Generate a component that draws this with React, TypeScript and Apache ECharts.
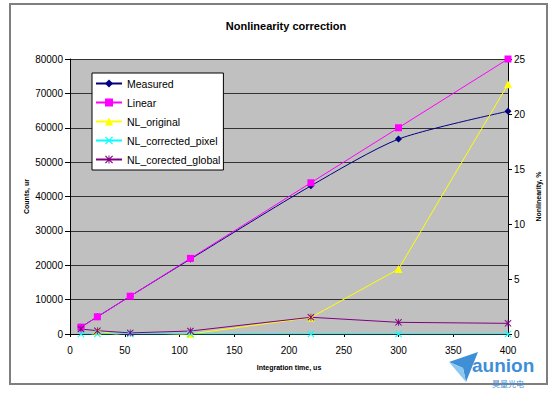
import React, { useEffect, useRef } from "react";
import * as echarts from "echarts";

const xValues = [10, 25, 55, 110, 220, 300, 400];
const measured = [2000, 5000, 11000, 21800, 43100, 56700, 64800];
const linear = [2000, 5000, 11000, 22000, 44000, 60000, 80000];
const nlOriginal = [-0.8, 0.3, -0.3, 0.0, 1.5, 5.9, 22.7];
const nlCorrectedPixel = [0, 0, 0, 0, 0, 0, 0];
const nlCorectedGlobal = [0.45, 0.3, 0.1, 0.27, 1.52, 1.06, 0.97];

const seriesNames = ["Measured", "Linear", "NL_original", "NL_corrected_pixel", "NL_corected_global"];

const X_PATH = "path://M0,1L1,0L5,4L9,0L10,1L6,5L10,9L9,10L5,6L1,10L0,9L4,5Z";
const STAR_PATH =
  "path://M0,1L1,0L5,4L9,0L10,1L6,5L10,9L9,10L5,6L1,10L0,9L4,5Z M4.4,0L5.6,0L5.6,10L4.4,10Z";

const FONT = "Liberation Sans, Arial, sans-serif";

function pairs(ys: number[]) {
  return xValues.map((x, i) => [x, ys[i]]);
}

export default function App() {
  const ref = useRef<HTMLDivElement>(null);
  useEffect(() => {
    document.body.style.margin = "0";
    if (!ref.current) return;
    const chart = echarts.init(ref.current, null, { renderer: "svg" });
    const mk = (
      name: string,
      data: number[],
      color: string,
      symbol: string,
      size: number,
      yAxisIndex: number,
      extra: any = {}
    ) => ({
      name,
      type: "line",
      data: pairs(data),
      yAxisIndex,
      symbol,
      symbolSize: size,
      showAllSymbol: true,
      lineStyle: { color, width: 1 },
      itemStyle: { color },
      clip: true,
      ...extra,
    });
    chart.setOption({
      animation: false,
      backgroundColor: "#ffffff",
      title: {
        text: "Nonlinearity correction",
        left: 281,
        textAlign: "center",
        top: 15,
        textStyle: { fontFamily: FONT, fontSize: 11, fontWeight: "bold", color: "#000" },
      },
      legend: {
        orient: "vertical",
        left: 92,
        top: 73,
        data: seriesNames,
        itemWidth: 26,
        itemHeight: 10,
        itemGap: 8,
        padding: [5, 3, 5, 3],
        backgroundColor: "#ffffff",
        borderColor: "#000000",
        borderWidth: 1,
        borderRadius: 0,
        textStyle: { fontFamily: FONT, fontSize: 10.5, color: "#000" },
      },
      grid: {
        left: 70,
        right: 49,
        top: 59,
        height: 275,
        show: true,
        backgroundColor: "#c0c0c0",
        borderColor: "#808080",
        borderWidth: 0,
      },
      xAxis: {
        type: "value",
        min: 0,
        max: 400,
        interval: 50,
        name: "Integration time, us",
        nameLocation: "middle",
        nameGap: 30,
        nameMoveOverlap: false,
        nameTextStyle: { fontFamily: FONT, fontSize: 7, fontWeight: "bold", color: "#000" },
        axisLine: { show: true, onZero: false, lineStyle: { color: "#000", width: 1 } },
        axisTick: { show: true, length: 3, lineStyle: { color: "#000" } },
        axisLabel: { fontFamily: FONT, fontSize: 10, color: "#000", margin: 11 },
        splitLine: { show: false },
      },
      yAxis: [
        {
          type: "value",
          min: 0,
          max: 80000,
          interval: 10000,
          position: "left",
          name: "Counts, ur",
          nameLocation: "middle",
          nameRotate: 90,
          nameGap: 40,
          nameMoveOverlap: false,
          nameTextStyle: { fontFamily: FONT, fontSize: 7, fontWeight: "bold", color: "#000" },
          axisLine: { show: true, lineStyle: { color: "#000", width: 1 } },
          axisTick: { show: true, length: 5, lineStyle: { color: "#000" } },
          axisLabel: {
            fontFamily: FONT,
            fontSize: 10,
            color: "#000",
            margin: 7,
            formatter: (v: number) => String(v),
          },
          splitLine: { show: true, lineStyle: { color: "#333333", width: 1 } },
        },
        {
          type: "value",
          min: 0,
          max: 25,
          interval: 5,
          position: "right",
          name: "Nonlinearity, %",
          nameLocation: "middle",
          nameRotate: 90,
          nameGap: 27,
          nameMoveOverlap: false,
          nameTextStyle: { fontFamily: FONT, fontSize: 7, fontWeight: "bold", color: "#000" },
          axisLine: { show: true, lineStyle: { color: "#000", width: 1 } },
          axisTick: { show: true, length: 4, lineStyle: { color: "#000" } },
          axisLabel: { fontFamily: FONT, fontSize: 10, color: "#000", margin: 6 },
          splitLine: { show: false },
        },
      ],
      series: [
        mk(seriesNames[0], measured, "#000080", "diamond", 7, 0, { smooth: 0.25 }),
        mk(seriesNames[1], linear, "#ff00ff", "rect", 7, 0),
        mk(seriesNames[2], nlOriginal, "#ffff00", "triangle", 8, 1),
        mk(seriesNames[3], nlCorrectedPixel, "#00ffff", X_PATH, 7, 1),
        mk(seriesNames[4], nlCorectedGlobal, "#800080", STAR_PATH, 7, 1),
      ],
      graphic: [
        {
          type: "rect",
          shape: { x: 10, y: 4, width: 537, height: 380 },
          style: { fill: "none", stroke: "#7f7f7f", lineWidth: 2 },
          z: -1,
        },
        {
          type: "polygon",
          shape: { points: [[449, 362], [478, 352], [466, 382], [463, 368]] },
          style: { fill: "#3f8fd6" },
        },
        {
          type: "polygon",
          shape: { points: [[449, 362], [463, 368], [466, 382]] },
          style: { fill: "#8cc8ef" },
        },
        {
          type: "text",
          x: 472,
          y: 365,
          style: {
            text: "aunion",
            fontFamily: FONT,
            fontSize: 19,
            fontWeight: "bold",
            fill: "#3f8fd6",
            verticalAlign: "middle",
          },
        },
        {
          type: "text",
          x: 492,
          y: 383,
          style: {
            text: "昊量光电",
            fontFamily: "Noto Sans CJK SC",
            fontSize: 8,
            fill: "#3f8fd6",
            verticalAlign: "middle",
          },
        },
      ],
    });
    return () => chart.dispose();
  }, []);
  return <div ref={ref} style={{ width: 557, height: 393 }} />;
}
